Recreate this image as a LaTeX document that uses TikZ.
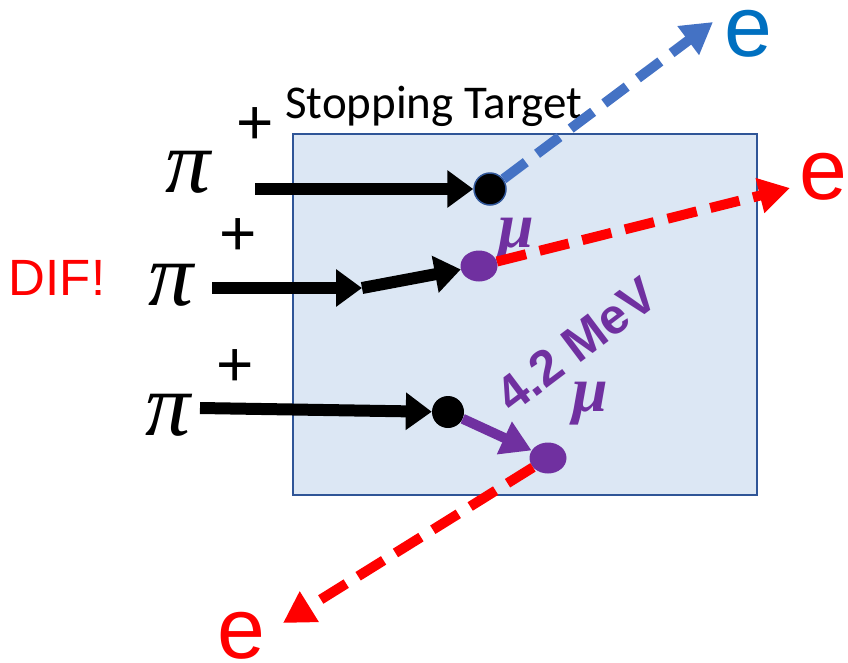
\documentclass[tikz,border=0pt]{standalone}
\usepackage{fontspec}
\setmainfont{Liberation Sans}
\newfontfamily\calibri{Carlito}
\newfontfamily\muserif{Liberation Serif}
\usetikzlibrary{arrows.meta, positioning, shapes.geometric}
\definecolor{targetfill}{HTML}{DCE7F4}
\definecolor{frame}{HTML}{2F5597}
\definecolor{eblue}{HTML}{4472C4}
\definecolor{textblue}{HTML}{0070C0}
\definecolor{ered}{HTML}{FF0000}
\definecolor{muon}{HTML}{7030A0}
\tikzset{
  targetbox/.style={
    rectangle, draw=frame, fill=targetfill, line width=2pt,
    minimum width=464pt, minimum height=361pt, inner sep=0pt
  },
  pion/.style={-{Triangle[length=26pt,width=36pt]}, line width=12pt, draw=black},
  muonpath/.style={-{Triangle[length=30pt,width=34pt]}, line width=10pt, draw=muon},
  electron/.style={-{Triangle[length=31pt,width=34pt]}, line width=10pt,
                   dash pattern=on 30pt off 14pt},
  stopped/.style={circle, fill=black, inner sep=0pt, minimum size=32pt},
  muondot/.style={ellipse, fill=muon, inner sep=0pt, minimum width=37pt, minimum height=31pt},
  pilabel/.style={font=\muserif\itshape\fontsize{90}{90}\selectfont, inner sep=0pt},
  charge/.style={font=\fontsize{64}{64}\selectfont, inner sep=0pt, on grid},
  elabel/.style={font=\fontsize{86}{86}\selectfont, inner sep=0pt},
  mulabel/.style={text=muon, font=\muserif\bfseries\itshape\fontsize{64}{64}\selectfont, inner sep=0pt},
}

\begin{document}
\begin{tikzpicture}[x=1pt, y=-1pt]
  \useasboundingbox (0,0) rectangle (848,662);

  \node[targetbox, anchor=north west] (target) at (292,133) {};
  \node[anchor=base west, inner sep=0pt, font=\calibri\fontsize{47}{47}\selectfont] (title) at (285,118) {Stopping Target};

  % incoming pions
  \node[pilabel] (pi1) at (188,172) {π};
  \node[pilabel] (pi2) at (171,285) {π};
  \node[pilabel] (pi3) at (168,415) {π};
  \node[charge, above right=46pt and 67pt of pi1] (plus1) {+};
  \node[charge, above right=48pt and 67pt of pi2] (plus2) {+};
  \node[charge, above right=47pt and 67pt of pi3] (plus3) {+};
  \node[text=ered, font=\fontsize{51}{51}\selectfont, inner sep=0pt] (dif) at (57,278) {DIF!};

  \coordinate (in1) at (255,189);
  \coordinate (in2) at (212,288);
  \coordinate (kink) at (362,288);
  \coordinate (in3) at (200,408);

  % stopping and decay points
  \node[stopped, draw=frame, line width=1.5pt] (dot1) at (490,189) {};
  \node[muondot] (mudot1) at (479,266) {};
  \node[stopped] (dot3) at (448,412) {};
  \node[muondot] (mudot2) at (548,458) {};

  \node[mulabel] (mu1) at (516,240) {μ};
  \node[mulabel] (mu2) at (590,404) {μ};
  \node[rotate=37, text=muon, inner sep=0pt, font=\bfseries\fontsize{50}{50}\selectfont] (energy) at (576,345) {4.2 MeV};

  \node[elabel, text=textblue] (e1) at (748,34) {e};
  \node[elabel, text=ered] (e2) at (823,177) {e};
  \node[elabel, text=ered] (e3) at (241,636) {e};
  \coordinate (tip1) at (713,22);
  \coordinate (tip2) at (790,188);
  \coordinate (tip3) at (283,623);

  \draw[pion] (in1) -- (dot1);
  \draw[pion] (in2) -- (kink);
  \draw[pion] (kink) -- (mudot1);
  \draw[pion] (in3) -- (dot3);
  \draw[muonpath] (dot3) -- (mudot2);

  \draw[electron, draw=eblue, dash pattern=on 28pt off 14pt] (dot1) -- (tip1);
  \draw[electron, draw=ered] (mudot1) -- (tip2);
  \draw[electron, draw=ered] (mudot2) -- (tip3);
\end{tikzpicture}
\end{document}
